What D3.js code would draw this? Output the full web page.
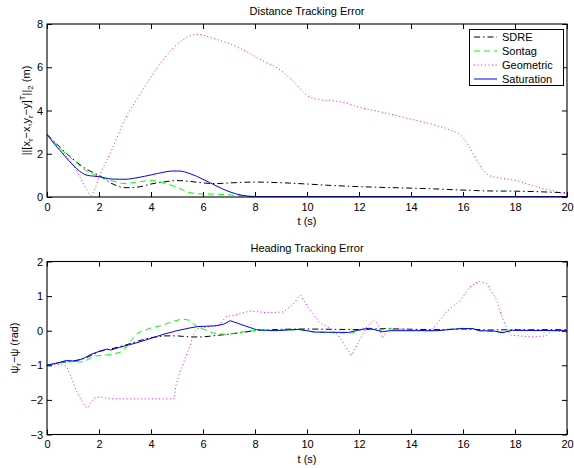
<!DOCTYPE html>
<html><head><meta charset="utf-8">
<script src="https://cdn.jsdelivr.net/npm/d3@7"></script>
<style>
body{margin:0;background:#fff;}
text{font-family:"Liberation Sans",Arial,sans-serif;fill:#000;}
</style></head>
<body><svg id="c" width="574" height="468"></svg>
<script>
// ---------- DATA ----------
const seriesNames = ["SDRE","Sontag","Geometric","Saturation"];
const xTicks = [0,2,4,6,8,10,12,14,16,18,20];
const distYTicks = [0,2,4,6,8];
const headYTicks = [-3,-2,-1,0,1,2];

// Distance tracking error
const distSdreT = [0,0.5,1,1.5,2,2.5,3,3.5,4,4.5,5,5.5,6,6.5,7,8,9,10,11,12,13,14,15,16,17,18,19,20];
const distSdreV = [2.9,2.3,1.75,1.3,1.0,0.62,0.43,0.46,0.6,0.7,0.76,0.72,0.65,0.62,0.65,0.69,0.66,0.6,0.53,0.48,0.44,0.41,0.37,0.32,0.28,0.27,0.24,0.19];
const distSontagT = [0,0.5,1,1.5,2,2.5,3,3.5,4,4.5,5,5.5,6,6.5,7,7.5,8,10,12,14,16,18,20];
const distSontagV = [2.9,2.25,1.72,1.22,0.95,0.75,0.62,0.7,0.76,0.65,0.45,0.2,0.14,0.13,0.1,0.05,0.02,0.02,0.02,0.02,0.02,0.02,0.02];
const distGeomT = [0,0.5,1,1.3,1.5,1.7,1.85,2,2.5,3,3.5,4,4.5,5,5.5,5.8,6.4,7,7.7,8.3,9,9.5,10,10.5,11,11.5,12,12.7,13.5,14,15,15.5,16,16.3,16.6,17,17.5,18,18.5,19,19.5,20];
const distGeomV = [2.9,2.2,1.5,0.85,0.4,0.07,0.4,0.9,2.2,3.6,4.6,5.55,6.4,7.05,7.45,7.52,7.33,7.1,6.7,6.3,5.85,5.3,4.7,4.5,4.45,4.35,4.15,3.97,3.75,3.6,3.3,3.1,2.75,2.2,1.55,1.0,0.86,0.77,0.6,0.42,0.28,0.12];
const distSatT = [0,0.25,0.5,0.75,1,1.25,1.5,1.75,2,2.5,3,3.5,4,4.5,4.8,5.1,5.5,6,6.5,7,7.5,8,10,12,14,16,18,20];
const distSatV = [2.9,2.5,2.15,1.8,1.48,1.2,1.02,0.97,0.94,0.83,0.82,0.9,1.02,1.15,1.2,1.2,1.08,0.82,0.52,0.25,0.08,0.02,0.02,0.02,0.02,0.02,0.02,0.02];

// Heading tracking error
const headSdreT = [0,0.5,1,1.5,2,2.5,3,3.5,4,4.5,5,5.5,6,6.5,7,7.5,8,9,10,11,12,13,14,15,16,17,18,20];
const headSdreV = [-1,-0.92,-0.88,-0.79,-0.6,-0.52,-0.42,-0.3,-0.2,-0.15,-0.15,-0.18,-0.18,-0.14,-0.1,-0.05,0,0.04,0.05,0.04,0.03,0.06,0.04,0.03,0.05,0.02,0.03,0.03];
const headSontagT = [0,0.75,1.4,1.8,2.0,2.5,2.9,3.2,3.5,4.0,4.4,4.9,5.2,5.5,5.7,6.0,6.4,6.9,7.4,7.9,8.5,9.7,10.3,11.7,12.1,12.4,12.8,13.1,13.4,15,16,16.4,16.6,17.5,17.9,20];
const headSontagV = [-1,-0.9,-0.9,-0.74,-0.72,-0.69,-0.6,-0.31,-0.06,0.08,0.15,0.28,0.34,0.3,0.15,0.05,-0.07,-0.11,-0.05,0.01,0.0,0.03,-0.04,-0.07,0.03,0.06,0.0,0.08,0.02,0.0,0.07,0.06,0.0,-0.04,0.02,0.01];
const headGeomT = [0,0.5,0.75,0.9,1.14,1.47,1.55,1.8,2.0,2.6,4.9,4.95,5.1,5.5,5.6,5.75,6.1,6.65,6.9,7.2,7.8,8.45,9.1,9.5,9.75,10.1,10.5,10.9,11.2,11.46,11.7,11.96,12.3,12.55,12.73,12.9,13.07,13.4,14.0,14.7,14.96,15.35,15.9,16.27,16.6,16.9,17.3,17.5,17.7,17.85,18.7,19.2,19.4,20];
const headGeomV = [-1,-0.97,-1.03,-1.28,-1.76,-2.2,-2.23,-1.95,-1.92,-1.97,-1.97,-1.6,-1.23,-0.43,-0.16,0.05,0.1,0.18,0.42,0.44,0.57,0.52,0.54,0.8,1.03,0.6,0.22,0.07,-0.13,-0.42,-0.71,-0.36,0.11,0.3,0.2,-0.22,0.0,0.05,0.04,-0.02,0.16,0.54,0.88,1.27,1.43,1.37,0.88,0.4,0.01,-0.13,-0.18,-0.15,0.0,-0.04];
const headSatT = [0,0.4,0.75,1.1,1.4,1.7,2.0,2.3,2.45,2.8,3.5,4,4.5,5,5.5,5.8,6.5,6.8,7.05,7.5,8.05,8.75,9.7,10.3,11.6,12.1,12.4,12.9,13.2,15,15.9,16.4,16.6,17.2,17.5,17.9,20];
const headSatV = [-1,-0.93,-0.86,-0.88,-0.8,-0.68,-0.6,-0.53,-0.56,-0.48,-0.34,-0.22,-0.1,0.0,0.08,0.12,0.14,0.19,0.29,0.17,0.03,0.0,0.04,-0.04,-0.05,0.04,0.07,-0.03,0.0,0.0,0.06,0.06,0.0,-0.01,-0.06,0.01,0.0];

// ---------- STYLE ----------
const styles = {
  SDRE:{color:"#000000",dash:"6,3,1.5,3",width:1},
  Sontag:{color:"#00ff00",dash:"6,4",width:1},
  Geometric:{color:"#ff00ff",dash:"1,2.6",width:1},
  Saturation:{color:"#0000ff",dash:null,width:1}
};

const svg = d3.select("#c");
const X0 = 47, X1 = 567;
const zip = (t,v) => t.map((d,i)=>[d,v[i]]);

function panel(opts){
  const {top,bottom,yDomain,yTicks,title,titleY,xlabY,series,curve,id} = opts;
  const x = d3.scaleLinear().domain([0,20]).range([X0,X1]);
  const y = d3.scaleLinear().domain(yDomain).range([bottom,top]);
  const g = svg.append("g");
  g.append("clipPath").attr("id",id).append("rect")
    .attr("x",X0).attr("y",top).attr("width",X1-X0).attr("height",bottom-top);
  const line = d3.line().x(d=>x(d[0])).y(d=>y(d[1])).curve(curve);
  const lg = g.append("g").attr("clip-path",`url(#${id})`);
  series.forEach(s=>{
    const st = styles[s.name];
    lg.append("path").datum(zip(s.t,s.v)).attr("d",line)
      .attr("fill","none").attr("stroke",st.color).attr("stroke-width",st.width)
      .attr("stroke-dasharray",st.dash);
  });
  // axes (ticks inward, all four sides)
  const fmt = d=>d<0?"\u2212"+Math.abs(d):String(d);
  const ax = (gen,tr)=>{
    const a = g.append("g").attr("transform",tr).call(gen);
    a.select(".domain").remove();
    a.selectAll("line").attr("stroke","#000");
    a.selectAll("text").attr("font-size",11).attr("fill","#000");
    return a;
  };
  ax(d3.axisBottom(x).tickValues(xTicks).tickFormat(fmt).tickSizeInner(-5).tickSizeOuter(0).tickPadding(6),`translate(0,${bottom})`);
  ax(d3.axisTop(x).tickValues(xTicks).tickFormat("").tickSizeInner(-5).tickSizeOuter(0),`translate(0,${top})`);
  ax(d3.axisLeft(y).tickValues(yTicks).tickFormat(fmt).tickSizeInner(-5).tickSizeOuter(0).tickPadding(4),`translate(${X0},0)`);
  ax(d3.axisRight(y).tickValues(yTicks).tickFormat("").tickSizeInner(-5).tickSizeOuter(0),`translate(${X1},0)`);
  g.append("rect").attr("x",X0).attr("y",top).attr("width",X1-X0).attr("height",bottom-top)
    .attr("fill","none").attr("stroke","#000").attr("stroke-width",1.1);
  g.append("text").attr("x",(X0+X1)/2).attr("y",titleY).attr("text-anchor","middle")
    .attr("font-size",11).text(title);
  g.append("text").attr("x",(X0+X1)/2).attr("y",xlabY).attr("text-anchor","middle")
    .attr("font-size",11).text("t (s)");
  return {x,y,g};
}

const p1 = panel({id:"clip1",top:24,bottom:197,yDomain:[0,8],yTicks:distYTicks,
  title:"Distance Tracking Error",titleY:15,xlabY:225,curve:d3.curveMonotoneX,
  series:[{name:"SDRE",t:distSdreT,v:distSdreV},{name:"Sontag",t:distSontagT,v:distSontagV},
          {name:"Geometric",t:distGeomT,v:distGeomV},{name:"Saturation",t:distSatT,v:distSatV}]});
const p2 = panel({id:"clip2",top:261.5,bottom:434.5,yDomain:[-3,2],yTicks:headYTicks,
  title:"Heading Tracking Error",titleY:252,xlabY:463,curve:d3.curveLinear,
  series:[{name:"SDRE",t:headSdreT,v:headSdreV},{name:"Sontag",t:headSontagT,v:headSontagV},
          {name:"Geometric",t:headGeomT,v:headGeomV},{name:"Saturation",t:headSatT,v:headSatV}]});

// y labels
const yl1 = svg.append("text").attr("transform","translate(30,110.5) rotate(-90)")
  .attr("text-anchor","middle").attr("font-size",11);
yl1.append("tspan").text("||[x");
yl1.append("tspan").attr("font-size",8).attr("dy",3).text("r");
yl1.append("tspan").attr("dy",-3).text("\u2212x,y");
yl1.append("tspan").attr("font-size",8).attr("dy",3).text("r");
yl1.append("tspan").attr("dy",-3).text("\u2212y]");
yl1.append("tspan").attr("font-size",8).attr("dy",-5).text("T");
yl1.append("tspan").attr("dy",5).text("||");
yl1.append("tspan").attr("font-size",8).attr("dy",3).text("2");
yl1.append("tspan").attr("dy",-3).text(" (m)");

const yl2 = svg.append("text").attr("transform","translate(18,348) rotate(-90)")
  .attr("text-anchor","middle").attr("font-size",11);
yl2.append("tspan").text("\u03c8");
yl2.append("tspan").attr("font-size",8).attr("dy",3).text("r");
yl2.append("tspan").attr("dy",-3).text("\u2212\u03c8 (rad)");

// legend
const L = svg.append("g");
L.append("rect").attr("x",469.5).attr("y",29.5).attr("width",94).attr("height",56)
  .attr("fill","#fff").attr("stroke","#000").attr("stroke-width",1);
seriesNames.forEach((n,i)=>{
  const yy = 37 + i*14;
  const st = styles[n];
  L.append("line").attr("x1",474).attr("x2",497).attr("y1",yy).attr("y2",yy)
    .attr("stroke",st.color).attr("stroke-width",st.width).attr("stroke-dasharray",st.dash);
  L.append("text").attr("x",502).attr("y",yy+4).attr("font-size",11).text(n);
});
</script></body></html>
